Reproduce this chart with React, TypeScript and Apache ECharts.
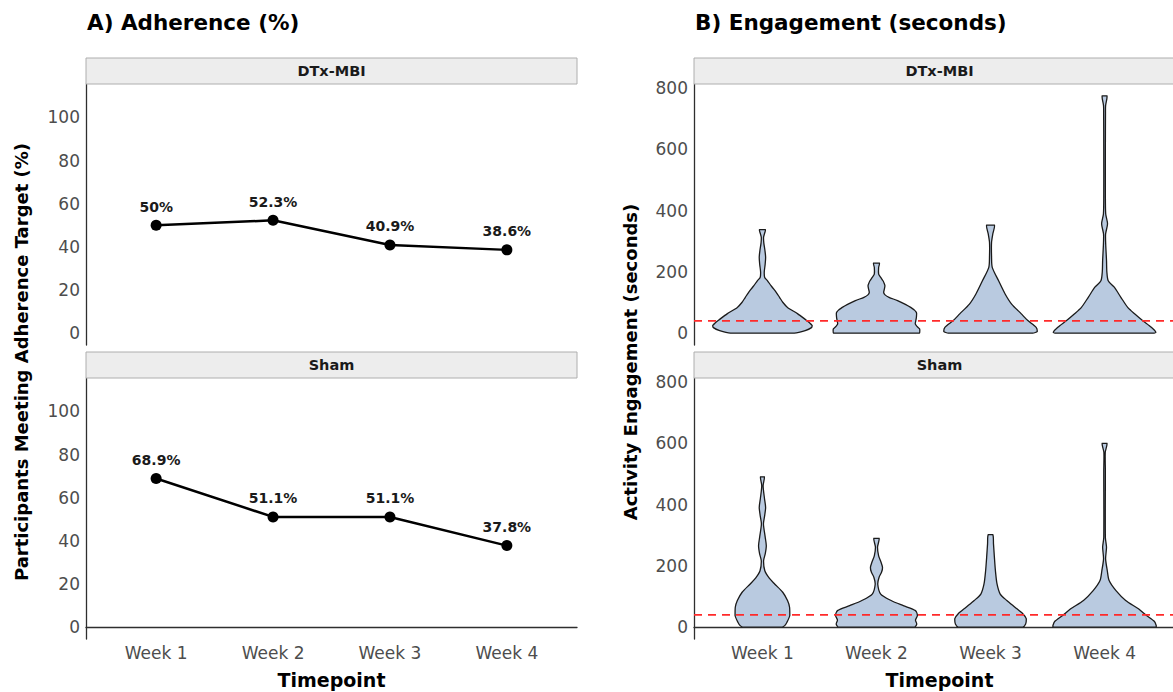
import { useEffect, useRef } from "react";
import * as echarts from "echarts";

// ---------- data ----------
const weeks = ["Week 1", "Week 2", "Week 3", "Week 4"];
const groups = ["DTx-MBI", "Sham"];
const adherenceDTx = [50, 52.3, 40.9, 38.6];
const adherenceSham = [68.9, 51.1, 51.1, 37.8];
const adherenceTicks = [0, 20, 40, 60, 80, 100];
const engagementTicks = [0, 200, 400, 600, 800];
const engagementThreshold = 40;

// violin outlines: [seconds, half width in category units], bottom to top
const violinDTxW1 = [[0, 0.28], [8, 0.375], [18, 0.43], [25, 0.436], [35, 0.41], [45, 0.375], [63, 0.31], [84, 0.22], [100, 0.18], [117, 0.15], [139, 0.11], [155, 0.075], [171, 0.045], [182, 0.02], [200, 0.016], [225, 0.024], [248, 0.028], [270, 0.022], [295, 0.012], [313, 0.01], [325, 0.018], [338, 0.026]];
const violinDTxW2 = [[0, 0.378], [8, 0.38], [14, 0.378], [22, 0.355], [30, 0.34], [41, 0.345], [52, 0.35], [68, 0.35], [84, 0.3], [106, 0.185], [117, 0.11], [125, 0.075], [133, 0.063], [145, 0.07], [155, 0.074], [165, 0.065], [171, 0.057], [182, 0.037], [193, 0.019], [215, 0.019], [229, 0.026]];
const violinDTxW3 = [[0, 0.37], [6, 0.41], [19, 0.4], [41, 0.327], [63, 0.27], [95, 0.185], [128, 0.128], [171, 0.071], [215, 0.015], [250, 0.009], [297, 0.009], [324, 0.02], [353, 0.034]];
const violinDTxW4 = [[0, 0.436], [3, 0.45], [19, 0.41], [41, 0.333], [63, 0.263], [84, 0.203], [117, 0.143], [150, 0.085], [171, 0.032], [200, 0.02], [237, 0.017], [290, 0.01], [324, 0.009], [357, 0.026], [389, 0.01], [450, 0.007], [600, 0.007], [716, 0.008], [743, 0.009], [775, 0.021]];
const violinShamW1 = [[0, 0.171], [5, 0.195], [16, 0.215], [38, 0.24], [65, 0.238], [87, 0.22], [114, 0.178], [141, 0.107], [160, 0.06], [184, 0.021], [217, 0.01], [240, 0.025], [266, 0.034], [295, 0.024], [337, 0.009], [365, 0.02], [391, 0.028], [420, 0.018], [462, 0.006], [491, 0.017]];
const violinShamW2 = [[0, 0.333], [10, 0.353], [23, 0.342], [38, 0.359], [54, 0.342], [70, 0.235], [87, 0.128], [108, 0.037], [141, 0.011], [163, 0.023], [180, 0.045], [195, 0.053], [212, 0.04], [233, 0.019], [261, 0.009], [290, 0.023]];
const violinShamW3 = [[0, 0.282], [10, 0.308], [27, 0.314], [43, 0.285], [65, 0.214], [87, 0.143], [108, 0.085], [141, 0.057], [184, 0.043], [228, 0.034], [272, 0.026], [302, 0.02]];
const violinShamW4 = [[0, 0.453], [5, 0.453], [19, 0.436], [38, 0.368], [59, 0.3], [87, 0.185], [119, 0.1], [152, 0.04], [184, 0.024], [223, 0.009], [261, 0.017], [293, 0.007], [511, 0.007], [571, 0.006], [600, 0.021]];

const violinsDTx = [violinDTxW1, violinDTxW2, violinDTxW3, violinDTxW4];
const violinsSham = [violinShamW1, violinShamW2, violinShamW3, violinShamW4];

// ---------- styling ----------
const FONT = '"DejaVu Sans", "Noto Sans", sans-serif';
const TICK_COLOR = "#4D4D4D";
const AXIS_COLOR = "#2E2E2E";
const VIOLIN_FILL = "#B9CAE0";

const L_LEFT = 86;
const R_LEFT = 694;
const PANEL_W = 491;
const PANEL_H = 261;
const TOP1 = 84;
const TOP2 = 378;
const STRIP_H = 26;

export default function App() {
  const ref = useRef<HTMLDivElement>(null);

  useEffect(() => {
    if (!ref.current) return;
    const chart = echarts.init(ref.current, undefined, { renderer: "svg" });

    const xAxisFor = (gridIndex: number, showLabels: boolean) => ({
      type: "value",
      gridIndex,
      min: 0.4,
      max: 4.6,
      axisLine: { show: showLabels, lineStyle: { color: AXIS_COLOR, width: 1.3 } },
      axisTick: { show: false },
      splitLine: { show: false },
      axisLabel: {
        show: showLabels,
        customValues: [1, 2, 3, 4],
        formatter: (v: number) => weeks[Math.round(v) - 1] ?? "",
        color: TICK_COLOR,
        fontSize: 17,
        fontFamily: FONT,
        margin: 5,
      },
    });

    const yAxisFor = (gridIndex: number, min: number, max: number, ticks: number[]) => ({
      type: "value",
      gridIndex,
      min,
      max,
      axisLine: { show: true, lineStyle: { color: AXIS_COLOR, width: 1.3 } },
      axisTick: { show: false },
      splitLine: { show: false },
      axisLabel: {
        customValues: ticks,
        color: TICK_COLOR,
        fontSize: 17,
        fontFamily: FONT,
        margin: 6,
      },
    });

    const lineSeries = (values: number[], idx: number) => ({
      type: "line",
      xAxisIndex: idx,
      yAxisIndex: idx,
      data: values.map((v, i) => [i + 1, v]),
      symbol: "circle",
      symbolSize: 11,
      itemStyle: { color: "#000000" },
      lineStyle: { color: "#000000", width: 2.5 },
      label: {
        show: true,
        position: "top",
        distance: 6,
        formatter: (p: any) => `${p.value[1]}%`,
        fontSize: 14,
        fontWeight: "bold",
        fontFamily: FONT,
        color: "#1A1A1A",
      },
      z: 3,
    });

    const violinSeries = (profiles: number[][][], idx: number) => ({
      type: "custom",
      xAxisIndex: idx,
      yAxisIndex: idx,
      data: profiles.map((p, i) => [i + 1, p[p.length - 1][0], i]),
      encode: { x: 0, y: 1 },
      renderItem: (params: any, api: any) => {
        const wk = api.value(0);
        const prof = profiles[params.dataIndex];
        const left = prof.map(([v, hw]) => api.coord([wk - hw, v]));
        const right = prof
          .slice()
          .reverse()
          .map(([v, hw]) => api.coord([wk + hw, v]));
        const pts = left.concat(right);
        let minX = Infinity, minY = Infinity, maxX = -Infinity, maxY = -Infinity;
        pts.forEach((p: number[]) => {
          minX = Math.min(minX, p[0]);
          maxX = Math.max(maxX, p[0]);
          minY = Math.min(minY, p[1]);
          maxY = Math.max(maxY, p[1]);
        });
        return {
          type: "polygon",
          shape: { points: pts, smooth: 0.25, smoothConstraint: [[minX, minY], [maxX, maxY]] },
          style: { fill: VIOLIN_FILL, stroke: "#1A1A1A", lineWidth: 1.3 },
        };
      },
      z: 2,
    });

    const thresholdSeries = (idx: number) => ({
      type: "line",
      xAxisIndex: idx,
      yAxisIndex: idx,
      data: [
        [0.4, engagementThreshold],
        [4.6, engagementThreshold],
      ],
      symbol: "none",
      lineStyle: { color: "#FF2A2A", width: 1.8, type: [8, 6] },
      silent: true,
      z: 4,
    });

    const strip = (x: number, y: number, label: string) => [
      {
        type: "rect",
        shape: { x, y, width: PANEL_W, height: STRIP_H },
        style: { fill: "#EDEDED", stroke: "#AEAEAE", lineWidth: 1 },
        z: 1,
      },
      {
        type: "text",
        x: x + PANEL_W / 2,
        y: y + STRIP_H / 2,
        style: {
          text: label,
          fill: "#1A1A1A",
          font: `bold 14.5px ${FONT}`,
          align: "center",
          verticalAlign: "middle",
        },
        z: 2,
      },
    ];

    const text = (x: number, y: number, t: string, size: number, align = "center", rotation = 0) => ({
      type: "text",
      x,
      y,
      rotation,
      style: {
        text: t,
        fill: "#000000",
        font: `bold ${size}px ${FONT}`,
        align,
        verticalAlign: "middle",
      },
    });

    const yMinE = -38.75;
    const yMaxE = 813.75;

    chart.setOption({
      animation: false,
      grid: [
        { left: L_LEFT, top: TOP1, width: PANEL_W, height: PANEL_H },
        { left: L_LEFT, top: TOP2, width: PANEL_W, height: PANEL_H },
        { left: R_LEFT, top: TOP1, width: PANEL_W, height: PANEL_H },
        { left: R_LEFT, top: TOP2, width: PANEL_W, height: PANEL_H },
      ],
      xAxis: [xAxisFor(0, false), xAxisFor(1, true), xAxisFor(2, false), xAxisFor(3, true)],
      yAxis: [
        yAxisFor(0, -5.5, 115.5, adherenceTicks),
        yAxisFor(1, -5.5, 115.5, adherenceTicks),
        yAxisFor(2, yMinE, yMaxE, engagementTicks),
        yAxisFor(3, yMinE, yMaxE, engagementTicks),
      ],
      series: [
        lineSeries(adherenceDTx, 0),
        lineSeries(adherenceSham, 1),
        violinSeries(violinsDTx, 2),
        violinSeries(violinsSham, 3),
        thresholdSeries(2),
        thresholdSeries(3),
      ],
      graphic: {
        elements: [
          text(87, 22, "A) Adherence (%)", 21.5, "left"),
          text(695, 22, "B) Engagement (seconds)", 21.5, "left"),
          ...strip(L_LEFT, TOP1 - STRIP_H, groups[0]),
          ...strip(L_LEFT, TOP2 - STRIP_H, groups[1]),
          ...strip(R_LEFT, TOP1 - STRIP_H, groups[0]),
          ...strip(R_LEFT, TOP2 - STRIP_H, groups[1]),
          text(21, 362, "Participants Meeting Adherence Target (%)", 18, "center", Math.PI / 2),
          text(630, 362, "Activity Engagement (seconds)", 18, "center", Math.PI / 2),
          text(L_LEFT + PANEL_W / 2, 680, "Timepoint", 19),
          text(R_LEFT + PANEL_W / 2, 680, "Timepoint", 19),
        ],
      },
    });

    return () => chart.dispose();
  }, []);

  return (
    <div
      ref={ref}
      style={{ position: "fixed", left: 0, top: 0, width: 1173, height: 692, background: "#ffffff" }}
    />
  );
}
